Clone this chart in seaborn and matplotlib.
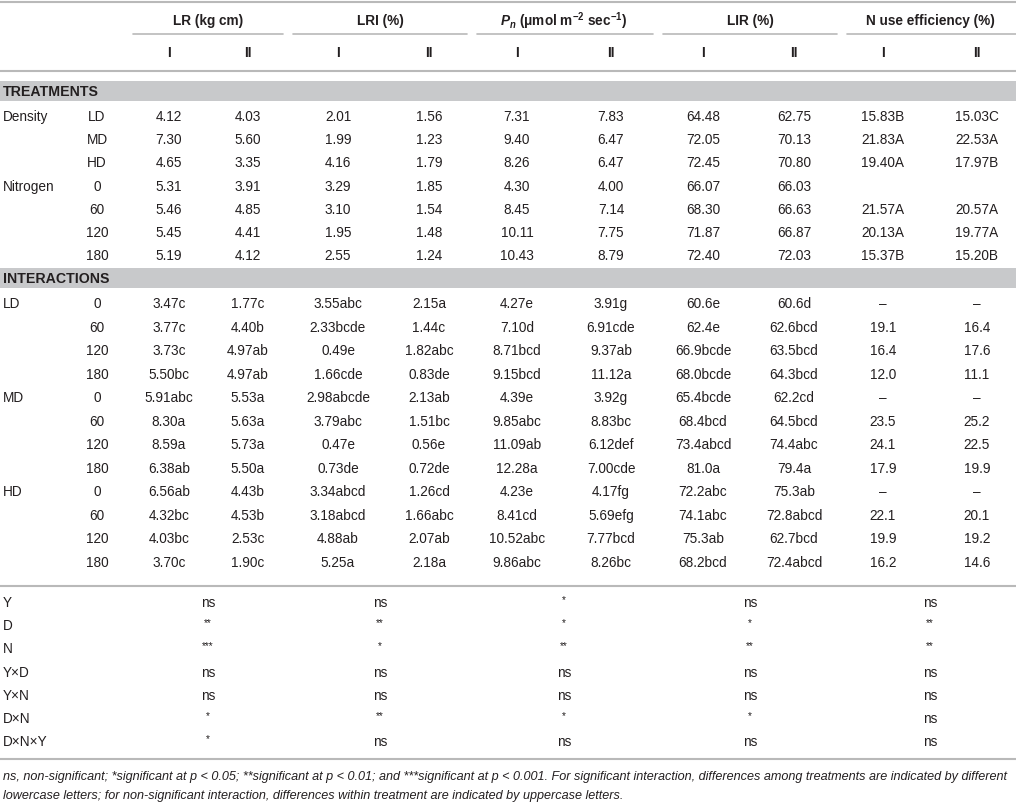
import pandas as pd
import seaborn as sns
import matplotlib.pyplot as plt
from matplotlib import font_manager

# -----------------------------
# Table data
# -----------------------------
groups = ["LR (kg cm)", "LRI (%)", r"$\mathit{P_n}$ (μmol m$^{-2}$ sec$^{-1}$)", "LIR (%)", "N use efficiency (%)"]
sub_cols = ["I", "II"]

treat_lbl1 = ["Density", "", "", "Nitrogen", "", "", ""]
treat_lbl2 = ["LD", "MD", "HD", "0", "60", "120", "180"]
treat_lr_1 = ["4.12", "7.30", "4.65", "5.31", "5.46", "5.45", "5.19"]
treat_lr_2 = ["4.03", "5.60", "3.35", "3.91", "4.85", "4.41", "4.12"]
treat_lri_1 = ["2.01", "1.99", "4.16", "3.29", "3.10", "1.95", "2.55"]
treat_lri_2 = ["1.56", "1.23", "1.79", "1.85", "1.54", "1.48", "1.24"]
treat_pn_1 = ["7.31", "9.40", "8.26", "4.30", "8.45", "10.11", "10.43"]
treat_pn_2 = ["7.83", "6.47", "6.47", "4.00", "7.14", "7.75", "8.79"]
treat_lir_1 = ["64.48", "72.05", "72.45", "66.07", "68.30", "71.87", "72.40"]
treat_lir_2 = ["62.75", "70.13", "70.80", "66.03", "66.63", "66.87", "72.03"]
treat_nue_1 = ["15.83B", "21.83A", "19.40A", "", "21.57A", "20.13A", "15.37B"]
treat_nue_2 = ["15.03C", "22.53A", "17.97B", "", "20.57A", "19.77A", "15.20B"]

int_lbl1 = ["LD", "", "", "", "MD", "", "", "", "HD", "", "", ""]
int_lbl2 = ["0", "60", "120", "180"] * 3
int_lr_1 = ["3.47c", "3.77c", "3.73c", "5.50bc", "5.91abc", "8.30a", "8.59a", "6.38ab",
            "6.56ab", "4.32bc", "4.03bc", "3.70c"]
int_lr_2 = ["1.77c", "4.40b", "4.97ab", "4.97ab", "5.53a", "5.63a", "5.73a", "5.50a",
            "4.43b", "4.53b", "2.53c", "1.90c"]
int_lri_1 = ["3.55abc", "2.33bcde", "0.49e", "1.66cde", "2.98abcde", "3.79abc", "0.47e", "0.73de",
             "3.34abcd", "3.18abcd", "4.88ab", "5.25a"]
int_lri_2 = ["2.15a", "1.44c", "1.82abc", "0.83de", "2.13ab", "1.51bc", "0.56e", "0.72de",
             "1.26cd", "1.66abc", "2.07ab", "2.18a"]
int_pn_1 = ["4.27e", "7.10d", "8.71bcd", "9.15bcd", "4.39e", "9.85abc", "11.09ab", "12.28a",
            "4.23e", "8.41cd", "10.52abc", "9.86abc"]
int_pn_2 = ["3.91g", "6.91cde", "9.37ab", "11.12a", "3.92g", "8.83bc", "6.12def", "7.00cde",
            "4.17fg", "5.69efg", "7.77bcd", "8.26bc"]
int_lir_1 = ["60.6e", "62.4e", "66.9bcde", "68.0bcde", "65.4bcde", "68.4bcd", "73.4abcd", "81.0a",
             "72.2abc", "74.1abc", "75.3ab", "68.2bcd"]
int_lir_2 = ["60.6d", "62.6bcd", "63.5bcd", "64.3bcd", "62.2cd", "64.5bcd", "74.4abc", "79.4a",
             "75.3ab", "72.8abcd", "62.7bcd", "72.4abcd"]
int_nue_1 = ["–", "19.1", "16.4", "12.0", "–", "23.5", "24.1", "17.9", "–", "22.1", "19.9", "16.2"]
int_nue_2 = ["–", "16.4", "17.6", "11.1", "–", "25.2", "22.5", "19.9", "–", "20.1", "19.2", "14.6"]

sig_lbl = ["Y", "D", "N", "Y×D", "Y×N", "D×N", "D×N×Y"]
sig_lr = ["ns", "**", "***", "ns", "ns", "*", "*"]
sig_lri = ["ns", "**", "*", "ns", "ns", "**", "ns"]
sig_pn = ["*", "*", "**", "ns", "ns", "*", "ns"]
sig_lir = ["ns", "*", "**", "ns", "ns", "*", "ns"]
sig_nue = ["ns", "**", "**", "ns", "ns", "ns", "ns"]

footnote = [
    "ns, non-significant; *significant at p < 0.05; **significant at p < 0.01; and ***significant at p < 0.001. "
    "For significant interaction, differences among treatments are indicated by different",
    "lowercase letters; for non-significant interaction, differences within treatment are indicated by uppercase letters.",
]

value_cols = ["lr_1", "lr_2", "lri_1", "lri_2", "pn_1", "pn_2", "lir_1", "lir_2", "nue_1", "nue_2"]
treat = pd.DataFrame(dict(zip(["lbl1", "lbl2"] + value_cols,
                              [treat_lbl1, treat_lbl2, treat_lr_1, treat_lr_2, treat_lri_1, treat_lri_2,
                               treat_pn_1, treat_pn_2, treat_lir_1, treat_lir_2, treat_nue_1, treat_nue_2])))
inter = pd.DataFrame(dict(zip(["lbl1", "lbl2"] + value_cols,
                              [int_lbl1, int_lbl2, int_lr_1, int_lr_2, int_lri_1, int_lri_2,
                               int_pn_1, int_pn_2, int_lir_1, int_lir_2, int_nue_1, int_nue_2])))
sig = pd.DataFrame({"lbl": sig_lbl, "lr": sig_lr, "lri": sig_lri, "pn": sig_pn,
                    "lir": sig_lir, "nue": sig_nue})

# -----------------------------
# Layout (pixel grid)
# -----------------------------
sns.set_theme(style="white")
plt.rcParams['font.family'] = ['Liberation Sans', 'DejaVu Sans']
plt.rcParams['mathtext.fontset'] = 'custom'
plt.rcParams['mathtext.it'] = 'Liberation Sans:italic:bold'
plt.rcParams['mathtext.rm'] = 'Liberation Sans:bold'

# condensed face for the footnote, if there is one
names = {f.name for f in font_manager.fontManager.ttflist}
fn_family = ['Liberation Sans Narrow', 'Liberation Sans'] if 'Liberation Sans Narrow' in names else ['Liberation Sans']

W, H = 1016, 803
fig = plt.figure(figsize=(W / 100, H / 100), dpi=100)
ax = fig.add_axes([0, 0, 1, 1])
ax.set_xlim(0, W)
ax.set_ylim(H, 0)
ax.axis("off")

TXT = "#231f20"
LINE = "#b9b9b9"
BAND = "#c8c9cb"
FS = 9.8

col_x = [169, 248, 338, 429, 517, 611, 703, 794, 883, 977]
group_x = [208, 380, 564, 750, 930]
group_span = [(133, 283), (293, 467), (477, 653), (663, 837), (847, 1016)]
lbl1_x, lbl2_x = 3, 97

# header
ax.axhline(3, color=LINE, lw=1.5)
for name, gx, (x0, x1) in zip(groups, group_x, group_span):
    ax.text(gx, 21, name, ha="center", va="center", fontsize=FS, fontweight="bold", color=TXT)
    ax.plot([x0, x1], [35, 35], color=LINE, lw=1.2)
for i, cx in enumerate(col_x):
    ax.text(cx, 53, sub_cols[i % 2], ha="center", va="center", fontsize=FS, fontweight="bold", color=TXT)
ax.axhline(72, color=LINE, lw=1.5)


def band(y0, y1, title):
    ax.axhspan(y0, y1, color=BAND, lw=0)
    ax.text(3, (y0 + y1) / 2 + 0.5, title, ha="left", va="center", fontsize=FS + 0.4,
            fontweight="bold", color=TXT)


def block(df, y0, step):
    for r, row in enumerate(df.itertuples(index=False)):
        y = y0 + r * step
        ax.text(lbl1_x, y, row.lbl1, ha="left", va="center", fontsize=FS, color=TXT)
        ax.text(lbl2_x, y, row.lbl2, ha="center", va="center", fontsize=FS, color=TXT)
        for c, cx in zip(value_cols, col_x):
            ax.text(cx, y, getattr(row, c), ha="center", va="center", fontsize=FS, color=TXT)


band(82, 102, "TREATMENTS")
block(treat, 117, 23.2)
band(269, 289, "INTERACTIONS")
block(inter, 304, 23.55)

ax.axhline(587, color=LINE, lw=1.5)
for r, row in enumerate(sig.itertuples(index=False)):
    y = 603 + r * 23.2
    ax.text(lbl1_x, y, row.lbl, ha="left", va="center", fontsize=FS, color=TXT)
    for c, gx in zip(["lr", "lri", "pn", "lir", "nue"], group_x):
        val = getattr(row, c)
        ax.text(gx, y if val == "ns" else y - 3, val, ha="center", va="center",
                fontsize=FS if val == "ns" else FS - 2.5, color=TXT)
ax.axhline(760, color=LINE, lw=1.5)

# footnote, scaled to fill the table width
fn1 = ax.text(3, 777, footnote[0], ha="left", va="center", fontsize=9, style="italic",
              family=fn_family, color=TXT)
fig.canvas.draw()
w = fn1.get_window_extent().width
fs_fn = 9 * 1008 / w
fn1.set_fontsize(fs_fn)
ax.text(3, 796, footnote[1], ha="left", va="center", fontsize=fs_fn, style="italic",
        family=fn_family, color=TXT)

fig.savefig("out.png", dpi=100, facecolor="white")
